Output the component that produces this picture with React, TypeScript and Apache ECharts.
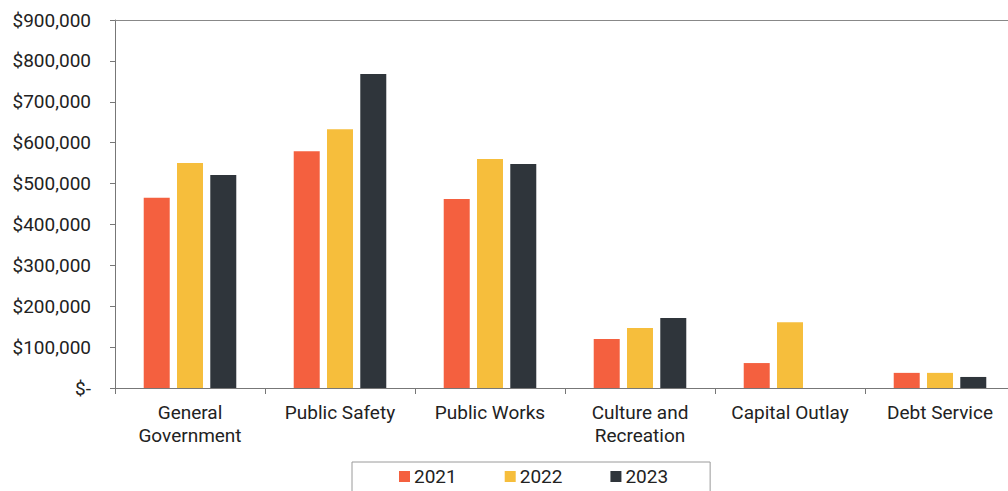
import React, { useEffect, useRef } from "react";
import * as echarts from "echarts";

const categories = ["General\nGovernment", "Public Safety", "Public Works", "Culture and\nRecreation", "Capital Outlay", "Debt Service"];
const years = ["2021", "2022", "2023"];
const values2021 = [465000, 579000, 462000, 120000, 61000, 37000];
const values2022 = [550000, 633000, 560000, 147000, 161000, 37000];
const values2023 = [521000, 768000, 548000, 171000, 0, 27000];
const colors = ["#F4603F", "#F6BE3C", "#2F353B"];
const yMax = 900000;
const yInterval = 100000;

export default function App() {
  const ref = useRef<HTMLDivElement>(null);
  useEffect(() => {
    if (!ref.current) return;
    const chart = echarts.init(ref.current, null, { renderer: "svg" });
    const font = "Roboto";
    const data = [values2021, values2022, values2023];
    chart.setOption({
      animation: false,
      textStyle: { fontFamily: font },
      grid: { left: 115, width: 900, top: 20, bottom: 103, outerBoundsMode: "none", containLabel: false },
      legend: {
        data: years,
        left: 352,
        top: 462,
        itemWidth: 11,
        itemHeight: 11,
        itemGap: 48,
        icon: "rect",
        borderColor: "#9a9a9a",
        borderWidth: 1,
        padding: [5, 42, 20, 47],
        textStyle: { fontSize: 19, color: "#222", fontFamily: font, padding: [0, 0, 0, -1] },
      },
      xAxis: {
        type: "category",
        data: categories,
        axisLine: { lineStyle: { color: "#777", width: 1 } },
        axisTick: { show: true, length: 6, lineStyle: { color: "#777" } },
        axisLabel: { fontSize: 19, color: "#222", margin: 13, lineHeight: 23, interval: 0 },
      },
      yAxis: {
        type: "value",
        min: 0,
        max: yMax,
        interval: yInterval,
        axisLine: { show: true, lineStyle: { color: "#777", width: 1 } },
        axisTick: { show: true, length: 5, lineStyle: { color: "#777" } },
        splitLine: { show: false },
        axisLabel: {
          fontSize: 19,
          color: "#222",
          margin: 24,
          formatter: (v: number) => (v === 0 ? "$-" : "$" + v.toLocaleString("en-US")),
        },
      },
      series: years.map((y, i) => ({
        name: y,
        type: "bar",
        data: data[i],
        barWidth: 26,
        barGap: "28%",
        itemStyle: { color: colors[i] },
        markLine:
          i === 0
            ? {
                silent: true,
                symbol: "none",
                label: { show: false },
                lineStyle: { color: "#888", type: "solid", width: 1 },
                data: [{ yAxis: yMax }],
              }
            : undefined,
      })),
    });
    return () => chart.dispose();
  }, []);
  return <div ref={ref} style={{ width: 1008, height: 491, position: "absolute", left: 0, top: 0 }} />;
}
